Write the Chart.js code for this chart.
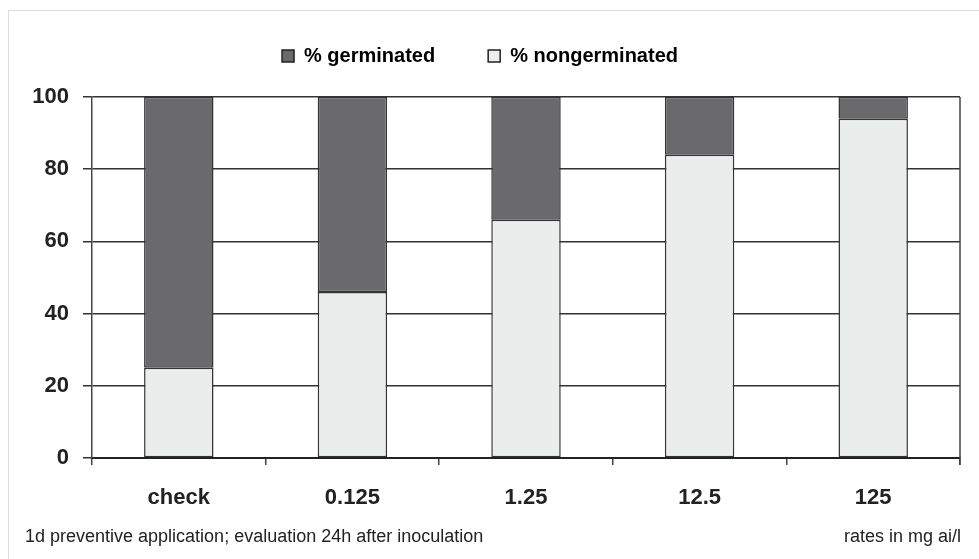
<!DOCTYPE html>
<html>
<head>
<meta charset="utf-8">
<script src="https://cdn.jsdelivr.net/npm/chart.js@4/dist/chart.umd.min.js"></script>
<style>
  html, body { margin: 0; padding: 0; background: #fff; }
  #wrap { position: relative; width: 979px; height: 559px; }
  #frame { position: absolute; left: 8px; top: 10px; right: -2px; bottom: -2px; border: 1px solid #dcdcdc; }
  canvas { position: absolute; left: 0; top: 0; }
</style>
</head>
<body>
<div id="wrap">
  <div id="frame"></div>
  <canvas id="germChart" width="979" height="559"></canvas>
</div>
<script>
const rates = ['check', '0.125', '1.25', '12.5', '125']
const nongerminated = [25, 46, 66, 84, 94]
const germinated = [75, 54, 34, 16, 6]
const yTicks = [0, 20, 40, 60, 80, 100]
const noteLeft = '1d preventive application; evaluation 24h after inoculation'
const noteRight = 'rates in mg ai/l'

const fontName = "'Liberation Sans', Arial, sans-serif"

// push the plot down below the legend
const legendGap = {
    id: 'legendGap',
    beforeInit(chart) {
        const fit = chart.legend.fit
        chart.legend.fit = function () {
            fit.bind(chart.legend)()
            this.height += 21
        }
    }
}

// right border of plot + footnotes
const extras = {
    id: 'extras',
    afterDraw(chart) {
        const ctx = chart.ctx
        const a = chart.chartArea
        ctx.save()
        ctx.strokeStyle = '#444'
        ctx.lineWidth = 1.5
        ctx.beginPath()
        ctx.moveTo(a.right, a.top)
        ctx.lineTo(a.right, a.bottom + 7)
        ctx.stroke()
        ctx.fillStyle = '#222'
        ctx.font = '18px ' + fontName
        ctx.textBaseline = 'middle'
        ctx.textAlign = 'left'
        ctx.fillText(noteLeft, 25, 537)
        ctx.textAlign = 'right'
        ctx.fillText(noteRight, 961, 537)
        ctx.restore()
    }
}

const data = {
    labels: rates,
    datasets: [{
        label: '% nongerminated',
        data: nongerminated,
        backgroundColor: '#ebecec',
        borderColor: '#333',
        borderWidth: 1.5,
        borderSkipped: false,
        barPercentage: 0.4,
        categoryPercentage: 1
    }, {
        label: '% germinated',
        data: germinated,
        backgroundColor: '#6a6a6c',
        borderColor: '#333',
        borderWidth: 1.5,
        borderSkipped: false,
        barPercentage: 0.4,
        categoryPercentage: 1
    }]
}

const config = {
    type: 'bar',
    data: data,
    plugins: [legendGap, extras],
    options: {
        responsive: false,
        animation: false,
        layout: {
            padding: { left: 0, right: 19, top: -7, bottom: 31 }
        },
        plugins: {
            legend: {
                reverse: true,
                labels: {
                    boxWidth: 12,
                    boxHeight: 12,
                    padding: 53,
                    color: '#222',
                    font: { family: fontName, size: 20, weight: 'bold' },
                    generateLabels(chart) {
                        return chart.data.datasets.map((ds, i) => ({
                            text: ds.label,
                            fillStyle: ds.backgroundColor,
                            strokeStyle: '#222',
                            lineWidth: 1.5,
                            datasetIndex: i
                        }))
                    }
                }
            },
            tooltip: { enabled: false }
        },
        scales: {
            x: {
                stacked: true,
                afterFit(axis) { axis.height = 70 },
                grid: {
                    offset: true,
                    drawOnChartArea: false,
                    drawTicks: true,
                    tickLength: 7,
                    color: '#444',
                    lineWidth: 1.5
                },
                border: { color: '#222', width: 2 },
                ticks: {
                    color: '#222',
                    padding: 20,
                    font: { family: fontName, size: 22, weight: 'bold' }
                }
            },
            y: {
                stacked: true,
                min: 0,
                max: 100,
                afterFit(axis) { axis.width = 92 },
                afterBuildTicks(axis) {
                    axis.ticks = yTicks.map(v => ({ value: v }))
                },
                grid: {
                    color: '#333',
                    lineWidth: 1.5,
                    tickLength: 9
                },
                border: { color: '#444', width: 1.5 },
                ticks: {
                    color: '#222',
                    padding: 14,
                    font: { family: fontName, size: 22, weight: 'bold' }
                }
            }
        }
    }
}

const myChart = new Chart(document.getElementById('germChart'), config)
</script>
</body>
</html>
